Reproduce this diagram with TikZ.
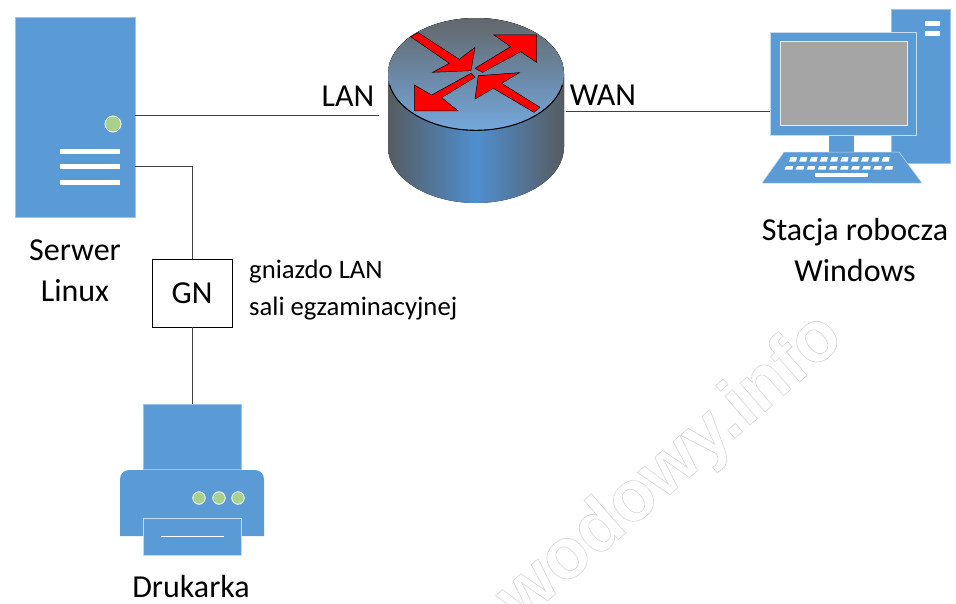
\documentclass[tikz,border=0pt]{standalone}
\usepackage{fontspec}
\setmainfont{Carlito}
\newfontfamily\markfont{Liberation Sans}[BoldFont={Liberation Sans Bold}]
\definecolor{iconblue}{HTML}{5B9BD5}
\definecolor{icongreen}{HTML}{A9D18E}
\definecolor{iconedge}{HTML}{9DC3E6}
\definecolor{screengray}{HTML}{A5A5A5}
\definecolor{cylgray}{HTML}{565B60}
\definecolor{cylblue}{HTML}{4F8FCF}
\definecolor{topgray}{HTML}{63676B}
\definecolor{topblue}{HTML}{74A8DC}
\begin{document}
\begin{tikzpicture}[
    x=1pt,y=-1pt,
    icon/.style={fill=iconblue,draw=iconedge,line width=0.6pt},
    slot/.style={fill=white,draw=none},
    led/.style={circle,fill=icongreen,draw=white,line width=0.8pt,minimum size=#1,inner sep=0pt},
    link/.style={draw=black!75,line width=0.9pt},
    redarrow/.style={fill=red,draw=black,line width=0.5pt,line join=miter},
    label/.style={font=\fontsize{32}{32}\selectfont,inner sep=0pt,anchor=base},
    small/.style={font=\fontsize{26.7}{26.7}\selectfont,inner sep=0pt,anchor=base west},
    ]
    \useasboundingbox (0,0) rectangle (956,603);
    % watermark
    \node[rotate=41,text=black!16,inner sep=0pt] (Mark) at (671,469)
        {\fontsize{72}{72}\markfont\bfseries\special{pdf:code 1 Tr 0.6 w}wodowy.info\special{pdf:code 0 Tr}};
    % server
    \node[icon,rectangle,minimum width=120pt,minimum height=200pt,inner sep=0pt] (Server) at (75,117) {};
    \node[led=16pt] (ServerLed) at (113,124) {};
    \foreach \y in {151,166.5,182} \fill[slot] (60,\y-2.5) rectangle (120,\y+2.5);
    \node[label] (ServerTxt) at (75,260) {Serwer};
    \node[label] (LinuxTxt) at (75,301) {Linux};
    % router
    \fill[left color=cylgray,right color=cylgray,middle color=cylblue]
        (388,74) -- (388,147) arc[start angle=180,end angle=0,x radius=88,y radius=56]
        -- (564,74) arc[start angle=0,end angle=-180,x radius=88,y radius=56] -- cycle;
    \fill[top color=topgray,bottom color=topblue] (476,74) ellipse[x radius=88,y radius=56];
    \draw[black,line width=1.1pt] (389.6,85) arc[start angle=169,end angle=11,x radius=88,y radius=56];
    \begin{scope}[shift={(360,0)},x=0.3333pt,y=-0.3333pt]
    \draw[redarrow] (175,98) -- (298,178) -- (345,142) -- (333,212) -- (218,217) -- (268,190) -- (152,110) -- cycle;
    \draw[redarrow] (345,205) -- (452,140) -- (402,105) -- (530,105) -- (530,187) -- (482,155) -- (368,217) -- cycle;
    \draw[redarrow] (333,220) -- (345,232) -- (245,293) -- (295,333) -- (163,333) -- (163,255) -- (215,285) -- cycle;
    \draw[redarrow] (355,227) -- (478,218) -- (425,250) -- (540,322) -- (522,337) -- (400,265) -- (345,297) -- cycle;
    \end{scope}
    \coordinate (LanEnd) at (379,115);
    \coordinate (WanEnd) at (566,111);
    \node[label] (LanTxt) at (348,106) {LAN};
    \node[label] (WanTxt) at (603,105) {WAN};
    % workstation
    \node[icon,rectangle,minimum width=59pt,minimum height=154pt,inner sep=0pt] (Tower) at (920.5,86) {};
    \fill[slot] (925,21) rectangle (940,26);
    \fill[slot] (925,31) rectangle (940,36);
    \fill[iconblue] (829,135) rectangle (854,153);
    \node[icon,rectangle,draw=white!40!iconedge,minimum width=146pt,minimum height=103pt,inner sep=0pt] (Monitor) at (843,83.5) {};
    \fill[screengray,draw=white!85!gray,line width=1pt] (780,41) rectangle (907,125);
    \fill[iconblue,draw=white!40!iconedge,line width=0.5pt] (784,152) -- (899,152) -- (922,183) -- (762,183) -- cycle;
    \foreach \i in {0,...,9} {
      \fill[slot] (790.5+\i*10.3,157) -- (797+\i*10.3,157) -- (796+\i*10.3,161.5) -- (789+\i*10.3,161.5) -- cycle;
      \fill[slot] (786+\i*11.1,166) -- (793+\i*11.1,166) -- (792.5+\i*11.1,169.5) -- (784.5+\i*11.1,169.5) -- cycle;
    }
    \fill[slot] (815,173) rectangle (868,177);
    \node[label] (StacjaTxt) at (855,240) {Stacja robocza};
    \node[label] (WindowsTxt) at (855,281) {Windows};
    % socket
    \node[rectangle,draw=black,line width=0.8pt,minimum width=80pt,minimum height=68pt,inner sep=0pt,font=\fontsize{32}{32}\selectfont] (Gn) at (192,293) {GN};
    \node[small] (GniazdoTxt) at (249,278) {gniazdo LAN};
    \node[small] (SaliTxt) at (249,315) {sali egzaminacyjnej};
    % printer
    \node[icon,rectangle,minimum width=98pt,minimum height=65pt,inner sep=0pt] (Paper) at (192,436.5) {};
    \fill[iconblue,rounded corners=9pt] (120,536) |- (264,470) -- (264,536);
    \node[rectangle,fill=iconblue,draw=white!40!iconedge,line width=0.6pt,minimum width=98pt,minimum height=37pt,inner sep=0pt] (Tray) at (192,536.5) {};
    \draw[white,line width=0.9pt] (161,536) -- (224,536);
    \foreach \x in {199,219,238} \node[led=12.5pt] (Dot\x) at (\x,498) {};
    \node[label] (PrinterTxt) at (191,597) {Drukarka};
    % links
    \draw[link] (Server.east |- LanEnd) -- (LanEnd);
    \draw[link] (WanEnd) -- (Monitor.west |- WanEnd);
    \coordinate (ServerOut) at (Server.east |- 0,166);
    \draw[link] (ServerOut) -| (Gn.north);
    \draw[link] (Gn.south) -- (Paper.north);
\end{tikzpicture}
\end{document}
